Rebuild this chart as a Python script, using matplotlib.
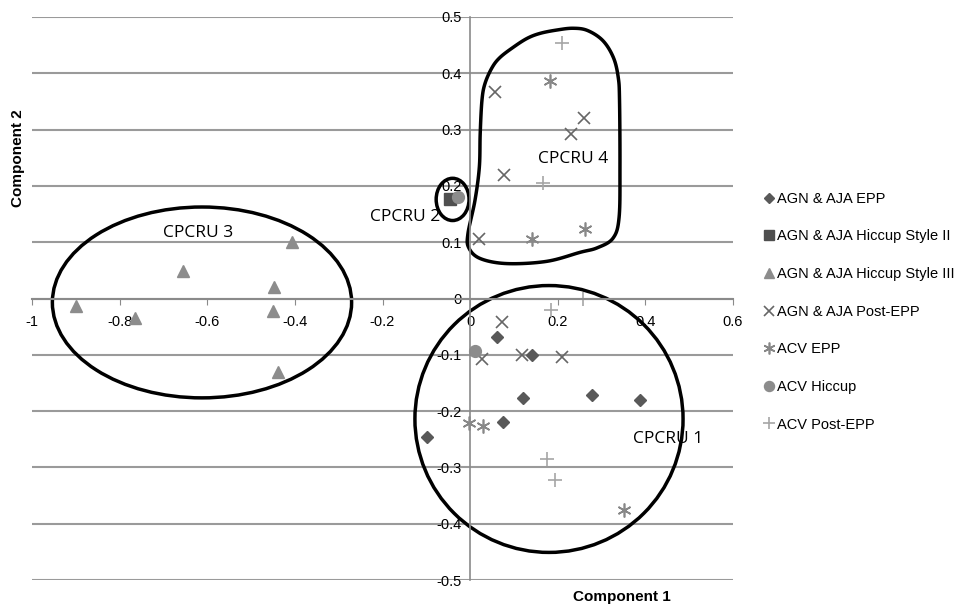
import matplotlib.pyplot as plt
import numpy as np
from matplotlib.patches import Ellipse, Polygon

# series values (component 1, component 2)
epp_x = [0.062, 0.141, 0.121, 0.278, 0.388, 0.076, -0.099]
epp_y = [-0.068, -0.100, -0.177, -0.171, -0.180, -0.220, -0.246]
hic2_x = [-0.046]
hic2_y = [0.177]
hic3_x = [-0.407, -0.655, -0.447, -0.900, -0.765, -0.450, -0.438]
hic3_y = [0.101, 0.048, 0.021, -0.014, -0.035, -0.023, -0.130]
post_x = [0.057, 0.260, 0.230, 0.078, 0.021, 0.073, 0.027, 0.118, 0.209]
post_y = [0.366, 0.321, 0.293, 0.220, 0.105, -0.042, -0.107, -0.100, -0.104]
acv_epp_x = [0.183, 0.262, 0.142, -0.002, 0.030, 0.352]
acv_epp_y = [0.387, 0.124, 0.105, -0.222, -0.227, -0.375]
acv_hic_x = [-0.027, 0.011]
acv_hic_y = [0.180, -0.094]
acv_post_x = [0.210, 0.167, 0.257, 0.185, 0.175, 0.194]
acv_post_y = [0.453, 0.206, 0.000, -0.021, -0.285, -0.322]

labels = ['AGN & AJA EPP', 'AGN & AJA Hiccup Style II', 'AGN & AJA Hiccup Style III',
          'AGN & AJA Post-EPP', 'ACV EPP', 'ACV Hiccup', 'ACV Post-EPP']
x_ticks = [-1, -0.8, -0.6, -0.4, -0.2, 0, 0.2, 0.4, 0.6]
y_ticks = [-0.5, -0.4, -0.3, -0.2, -0.1, 0, 0.1, 0.2, 0.3, 0.4, 0.5]

# outline of the CPCRU 4 region (hand drawn shape)
blob = [(0.160, 0.471), (0.199, 0.477), (0.235, 0.480), (0.268, 0.476), (0.303, 0.458),
        (0.327, 0.428), (0.338, 0.393), (0.341, 0.352), (0.342, 0.233), (0.340, 0.144),
        (0.326, 0.107), (0.290, 0.090), (0.251, 0.082), (0.175, 0.066), (0.084, 0.062),
        (0.023, 0.071), (-0.003, 0.090), (-0.005, 0.115), (0.011, 0.174), (0.021, 0.233),
        (0.023, 0.293), (0.027, 0.352), (0.034, 0.382), (0.050, 0.410), (0.068, 0.428),
        (0.098, 0.446), (0.130, 0.462)]

plt.rcParams['font.family'] = ['Liberation Sans', 'DejaVu Sans']

fig = plt.figure(figsize=(9.68, 6.04), dpi=100)
ax = fig.add_axes([32/968, 1-580/604, (733-32)/968, (580-17)/604])

ax.plot(epp_x, epp_y, 'D', color='#595959', ms=6.5, ls='none', label=labels[0])
ax.plot(hic2_x, hic2_y, 's', color='#4f4f4f', ms=8, ls='none', label=labels[1])
ax.plot(hic3_x, hic3_y, '^', color='#8c8c8c', ms=9, ls='none', label=labels[2])
ax.plot(post_x, post_y, 'x', color='#666666', ms=9, mew=1.2, ls='none', label=labels[3])
ax.plot(acv_epp_x, acv_epp_y, marker=(6, 2, 0), color='#888888', ms=10, mew=1.2, ls='none', label=labels[4])
ax.plot(acv_hic_x, acv_hic_y, 'o', color='#8c8c8c', ms=8.5, ls='none', label=labels[5])
ax.plot(acv_post_x, acv_post_y, '+', color='#a6a6a6', ms=10, mew=1.2, ls='none', label=labels[6])

ax.set_xlim(-1, 0.6)
ax.set_ylim(-0.5, 0.5)
ax.set_xticks(x_ticks)
ax.set_xticklabels(['-1', '-0.8', '-0.6', '-0.4', '-0.2', '0', '0.2', '0.4', '0.6'])
ax.set_yticks(y_ticks)
ax.set_yticklabels(['-0.5', '-0.4', '-0.3', '-0.2', '-0.1', '0', '0.1', '0.2', '0.3', '0.4', '0.5'])

for s in ['top', 'right']:
    ax.spines[s].set_visible(False)
ax.spines['left'].set_position(('data', 0))
ax.spines['bottom'].set_position(('data', 0))
ax.spines['left'].set_color('#8a8a8a')
ax.spines['bottom'].set_color('#8a8a8a')
ax.spines['left'].set_linewidth(1.2)
ax.spines['bottom'].set_linewidth(1.5)
ax.tick_params(axis='x', direction='out', length=4, color='#8a8a8a', labelsize=10.5, pad=8)
ax.tick_params(axis='y', length=0, labelsize=10.5, pad=6)
ax.yaxis.grid(True, color='#9a9a9a', lw=1.5)
ax.set_axisbelow(True)

# cluster outlines
ax.add_patch(Ellipse((-0.612, -0.007), 0.683, 0.339, fill=False, lw=2.5, ec='black', clip_on=False))
ax.add_patch(Ellipse((0.180, -0.214), 0.612, 0.474, fill=False, lw=2.5, ec='black', clip_on=False))
ax.add_patch(Ellipse((-0.040, 0.176), 0.075, 0.075, fill=False, lw=2.5, ec='black', clip_on=False))

# closed catmull-rom curve through blob outline
p = np.array(blob)
n = len(p)
t = np.linspace(0, 1, 12, endpoint=False)[:, None]
pts = []
for i in range(n):
    p0, p1, p2, p3 = p[i-1], p[i], p[(i+1) % n], p[(i+2) % n]
    seg = 0.5*((2*p1) + (-p0+p2)*t + (2*p0-5*p1+4*p2-p3)*t**2 + (-p0+3*p1-3*p2+p3)*t**3)
    pts.append(seg)
ax.add_patch(Polygon(np.vstack(pts), closed=True, fill=False, lw=2.5, ec='black',
                     joinstyle='round', clip_on=False))

lab = dict(fontsize=12.5, family=['Open Sans', 'DejaVu Sans'], ha='center', va='center')
ax.text(0.235, 0.248, 'CPCRU 4', **lab)
ax.text(-0.148, 0.144, 'CPCRU 2', **lab)
ax.text(-0.621, 0.117, 'CPCRU 3', **lab)
ax.text(0.452, -0.250, 'CPCRU 1', **lab)

fig.text(622/968, 1-597/604, 'Component 1', ha='center', va='center', fontsize=11, fontweight='bold')
fig.text(18/968, 1-158/604, 'Component 2', ha='center', va='center', rotation=90,
         fontsize=11, fontweight='bold')

ax.legend(loc='upper left', bbox_to_anchor=(757/968, 1-186/604), bbox_transform=fig.transFigure,
          frameon=False, fontsize=10.5, handlelength=0.8, handletextpad=0.15,
          labelspacing=1.62, borderaxespad=0, markerscale=0.85)

fig.savefig('out.png', dpi=100)
